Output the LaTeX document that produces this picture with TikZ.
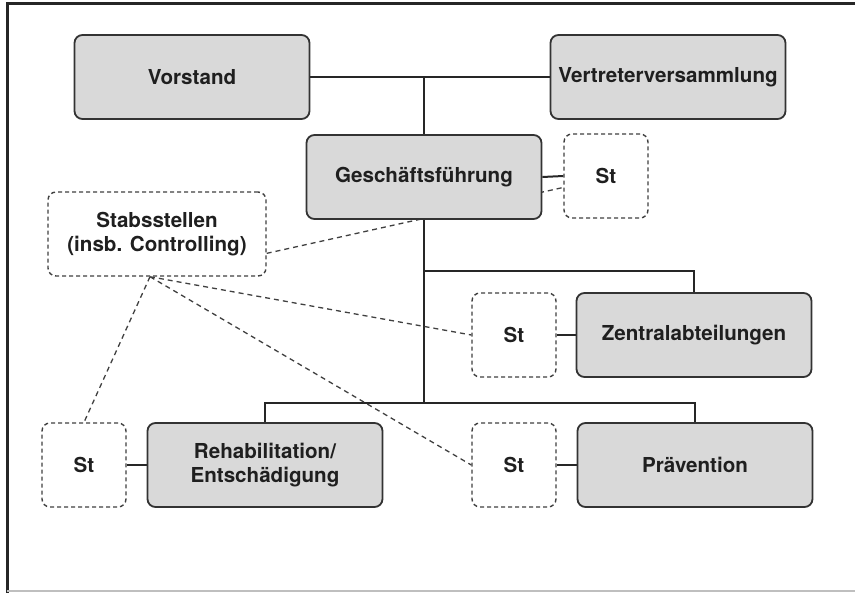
\documentclass[tikz,border=0pt]{standalone}
\usepackage{fontspec}
\setmainfont{TeX Gyre Heros}
\usetikzlibrary{backgrounds}
\begin{document}
\begin{tikzpicture}[x=.5pt,y=-.5pt,
		box/.style={draw=black!80,line width=.9pt,fill=black!15,rounded corners=4pt,minimum width=117.5pt,minimum height=42pt,align=center,font=\fontsize{10.3}{11.7}\selectfont\bfseries,text=black!88},
		stbox/.style={draw=black!75,line width=.7pt,dash pattern=on 2pt off 1.5pt,fill=white,rounded corners=4pt,minimum width=42pt,minimum height=42pt,align=center,font=\fontsize{10.3}{11.7}\selectfont\bfseries,text=black!88},
		con/.style={draw=black!85,line width=1pt},
		stl/.style={draw=black!75,line width=.65pt,dash pattern=on 2.5pt off 2pt}]
				\useasboundingbox (0,0) rectangle (855,593);
				\draw[line width=1.5pt,black!85] (7,593) -- (7,4) -- (855,4);
				\draw[line width=.6pt,black!25] (7,591) -- (855,591);
				
				\node[box] (vor) at (192,77) {Vorstand};
				\node[box] (vv) at (668,77) {Vertreterversammlung};
				\node[box] (gf) at (424,177) {Geschäftsführung};
				\node[stbox] (st1) at (606,176) {St};
				\node[stbox,minimum width=109pt] (stab) at (157,234) {Stabsstellen\\(insb. Controlling)};
				\node[box] (za) at (694,335) {Zentralabteilungen};
				\node[stbox] (st2) at (514,335) {St};
				\node[box] (re) at (265,465) {Rehabilitation/\\Entschädigung};
				\node[stbox] (st3) at (84,465) {St};
				\node[box] (prae) at (695,465) {Prävention};
				\node[stbox] (st4) at (514,465) {St};
				
				\coordinate (ja) at (424,271);
				\coordinate (jb) at (424,403);
				\coordinate[xshift=-3.5pt] (stabfoot) at (stab.south);
				
				\begin{pgfonlayer}{background}
				\draw[con] (vor.east) -- (vv.west);
				\draw[con] (gf.north) -- (gf.north |- vor.east);
				\draw[con] (gf.south) -- (jb);
				\draw[con] (ja) -| (za.north);
				\draw[con] (re.north) |- (jb) -| (prae.north);
				\draw[con] (gf.east) -- (st1.west);
				\draw[con] (st2.east) -- (za.west);
				\draw[con] (st3.east) -- (re.west);
				\draw[con] (st4.east) -- (prae.west);
				
				\draw[stl] (stab.-10) -- (st1.195);
				\draw[stl] (stabfoot) -- (st2.west);
				\draw[stl] (stabfoot) -- (st4.west);
				\draw[stl] (stabfoot) -- (st3.north);
				\end{pgfonlayer}
		\end{tikzpicture}
\end{document}
